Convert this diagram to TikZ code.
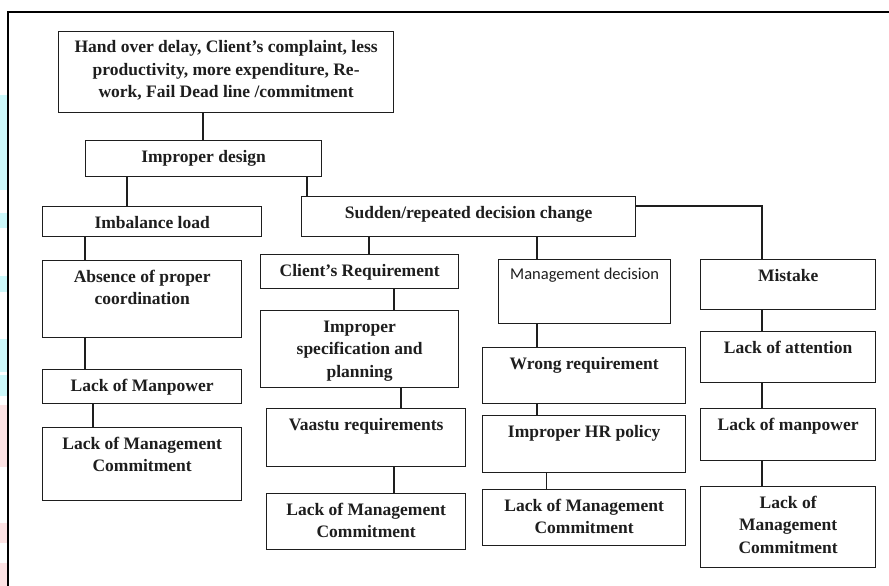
\documentclass[tikz,border=0pt]{standalone}
\usepackage{fontspec}
\setmainfont{Liberation Serif}
\newfontfamily\mgmtfont{Carlito}
\usetikzlibrary{calc}
\definecolor{stripcyan}{HTML}{CCF8FA}
\definecolor{strippink}{HTML}{FDE3E4}
\definecolor{ink}{HTML}{1E1E1E}
\tikzset{
  box/.style={draw=ink, line width=1.3pt, inner sep=0pt, anchor=north west},
  txt/.style={anchor=base, inner sep=0pt, font=\fontsize{17.5}{22.5}\selectfont\bfseries, text=ink},
  link/.style={draw=ink, line width=1.3pt},
  frame/.style={draw=black, line width=1.8pt}
}
% \cbx{name}{x1}{y1}{x2}{y2}{text}
\newcommand{\cbx}[6]{%
  \node[box, minimum width=#4-#2, minimum height=#5-#3] (#1) at (#2,#3) {};
  \node[txt] (#1t) at ($(#1.north)+(0,22)$) {\begin{tabular}[t]{@{}c@{}}#6\end{tabular}};
}
\begin{document}
\begin{tikzpicture}[x=1pt, y=-1pt]
\useasboundingbox (0,0) rectangle (889,586);
\fill[white] (0,0) rectangle (889,586);
% coloured strips at the left edge
\fill[stripcyan] (0,95) rectangle (7,190);
\fill[stripcyan] (0,213) rectangle (7,228);
\fill[stripcyan] (0,276) rectangle (7,292);
\fill[stripcyan] (0,339) rectangle (7,372);
\fill[stripcyan] (0,375) rectangle (7,396);
\fill[strippink] (0,405) rectangle (7,467);
\fill[strippink] (0,523) rectangle (7,543);
\fill[strippink] (0,563) rectangle (7,586);
% frame
\coordinate (fa) at (8,586);
\coordinate (fb) at (8,12);
\coordinate (fc) at (889,12);
\draw[frame] (fa) -- (fb) -- (fc);

% boxes
\cbx{top}{58}{31}{393}{112}{Hand over delay, Client's complaint, less\\productivity, more expenditure, Re-\\work, Fail Dead line /commitment}
\cbx{imp}{85}{140}{321}{176}{Improper design}
\cbx{imb}{42}{206}{261}{236}{Imbalance load}
\cbx{sud}{301}{196}{635}{236}{Sudden/repeated decision change}
\cbx{abs}{42}{260}{241}{337}{Absence of proper\\coordination}
\cbx{lmp}{42}{369}{241}{403}{Lack of Manpower}
\cbx{lmc}{42}{427}{241}{500}{Lack of Management\\Commitment}
\cbx{cli}{260}{254}{458}{288}{Client's Requirement}
\cbx{spec}{260}{310}{458}{387}{Improper\\specification and\\planning}
\cbx{vas}{266}{408}{465}{466}{Vaastu requirements}
\cbx{lmcb}{266}{493}{465}{549}{Lack of Management\\Commitment}
\node[box, minimum width=172, minimum height=64] (mgd) at (498,259) {};
\node[txt, font=\mgmtfont\fontsize{16.5}{19}\selectfont] (mgdt) at ($(mgd.north)+(0,20)$) {Management decision};
\cbx{wrq}{482}{347}{685}{403}{Wrong requirement}
\cbx{hrp}{482}{415}{685}{472}{Improper HR policy}
\cbx{lmcc}{482}{489}{685}{545}{Lack of Management\\Commitment}
\cbx{mis}{700}{259}{875}{309}{Mistake}
\cbx{att}{700}{331}{875}{382}{Lack of attention}
\cbx{lmw}{700}{408}{875}{460}{Lack of manpower}
\cbx{lmcd}{700}{486}{875}{567}{Lack of\\Management\\Commitment}

% connectors
\draw[link] (top.south -| 203,0) -- (imp.north -| 203,0);
\draw[link] (imp.south -| 127,0) -- (imb.north -| 127,0);
\draw[link] (imp.south -| 307,0) -- (sud.north -| 307,0);
\draw[link] (imb.south -| 85,0) -- (abs.north -| 85,0);
\draw[link] (abs.south -| 85,0) -- (lmp.north -| 85,0);
\draw[link] (lmp.south -| 93,0) -- (lmc.north -| 93,0);
\draw[link] (sud.south -| 369,0) -- (cli.north -| 369,0);
\draw[link] (sud.south -| 537,0) -- (mgd.north -| 537,0);
\draw[link] (sud.east |- 0,206) -| (mis.north -| 762,0);
\draw[link] (cli.south -| 394,0) -- (spec.north -| 394,0);
\draw[link] (spec.south -| 401,0) -- (vas.north -| 401,0);
\draw[link] (vas.south -| 394,0) -- (lmcb.north -| 394,0);
\draw[link] (mgd.south -| 537,0) -- (wrq.north -| 537,0);
\draw[link] (wrq.south -| 537,0) -- (hrp.north -| 537,0);
\draw[link, line width=0.8pt] (hrp.south -| 546,0) -- (lmcc.north -| 546,0);
\draw[link] (mis.south -| 762,0) -- (att.north -| 762,0);
\draw[link] (att.south -| 762,0) -- (lmw.north -| 762,0);
\draw[link] (lmw.south -| 762,0) -- (lmcd.north -| 762,0);
\end{tikzpicture}
\end{document}
